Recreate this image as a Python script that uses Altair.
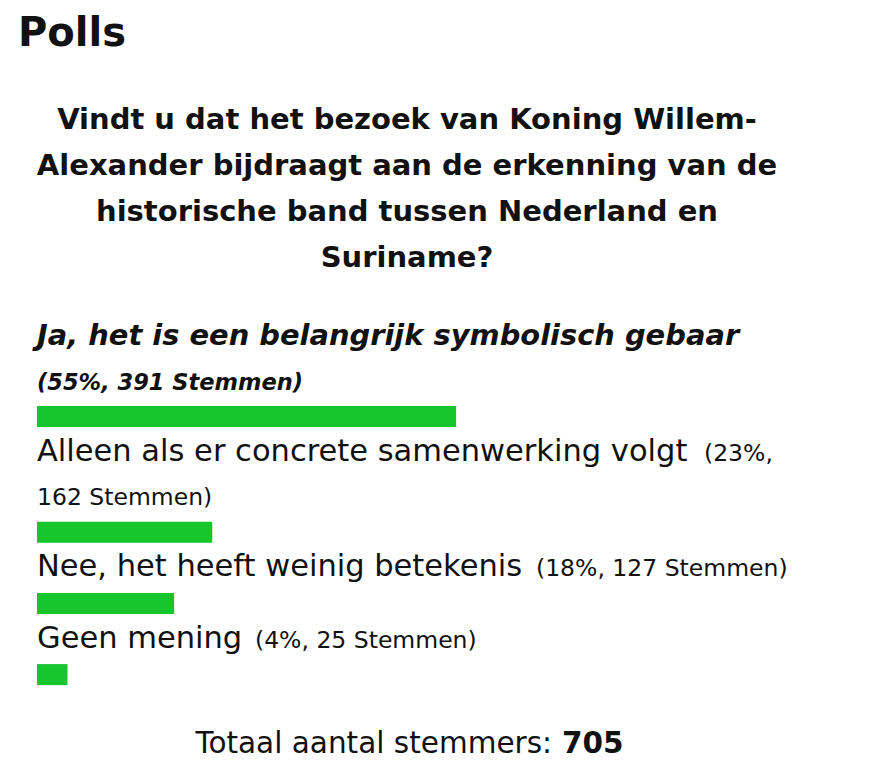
import altair as alt
import pandas as pd

# ---------------- data ----------------
page_title = "Polls"
question_lines = [
    "Vindt u dat het bezoek van Koning Willem-",
    "Alexander bijdraagt aan de erkenning van de",
    "historische band tussen Nederland en",
    "Suriname?",
]
option_labels = [
    "Ja, het is een belangrijk symbolisch gebaar",
    "Alleen als er concrete samenwerking volgt",
    "Nee, het heeft weinig betekenis",
    "Geen mening",
]
option_pct = [55, 23, 18, 4]
option_votes = [391, 162, 127, 25]
label_line_counts = [2, 2, 1, 1]  # text lines printed above each bar
total_label = "Totaal aantal stemmers:"
total_votes = 705

# ---------------- style ----------------
FONT = "DejaVu Sans"
GREEN = "#17c52d"
INK = "#111111"

df = pd.DataFrame({
    "option": option_labels,
    "pct": option_pct,
    "votes": option_votes,
    "lines": label_line_counts,
})
df["idx"] = range(len(df))
# vertical slot of each bar: one unit per text line plus a fixed gap per bar
df["slot"] = df["lines"].cumsum() + 0.6 * df["idx"]
df["votes_text"] = "(" + df["pct"].astype(str) + "%, " + df["votes"].astype(str) + " Stemmen)"

xscale = alt.Scale(domain=[0, 100], range=[29, 791])
yscale = alt.Scale(domain=[0, 10], range=[314.5, 769.5])

bars = alt.Chart(df).mark_bar(orient="horizontal", size=21, color=GREEN).encode(
    x=alt.X("pct:Q", scale=xscale, axis=None),
    y=alt.Y("slot:Q", scale=yscale, axis=None),
)

UPPER = -71.5
LOWER = -27


def frag(i, text, dy, x, size, weight="normal", style="normal"):
    d = df.iloc[[i]].assign(t=text)
    return alt.Chart(d).mark_text(
        align="left", baseline="alphabetic", font=FONT, fontSize=size,
        fontWeight=weight, fontStyle=style, dy=dy, color=INK,
    ).encode(
        x=alt.value(x),
        y=alt.Y("slot:Q", scale=yscale, axis=None),
        text="t:N",
    )


LABEL_SIZE = 30.5
SMALL_SIZE = 23.5
v1_a, v1_b = df.loc[1, "votes_text"].split(" ", 1)

layers = [
    bars,
    frag(0, df.loc[0, "option"], UPPER, 29, 28.9, "bold", "italic"),
    frag(0, df.loc[0, "votes_text"], LOWER, 29, 22.5, "bold", "italic"),
    frag(1, df.loc[1, "option"], UPPER, 29, LABEL_SIZE),
    frag(1, v1_a, UPPER, 696, SMALL_SIZE),
    frag(1, v1_b, LOWER, 29, SMALL_SIZE),
    frag(2, df.loc[2, "option"], LOWER, 29, LABEL_SIZE),
    frag(2, df.loc[2, "votes_text"], LOWER, 528, SMALL_SIZE),
    frag(3, df.loc[3, "option"], LOWER, 29, LABEL_SIZE),
    frag(3, df.loc[3, "votes_text"], LOWER, 247, SMALL_SIZE),
]

one = pd.DataFrame({"t": [page_title]})
title = alt.Chart(one).mark_text(
    align="left", baseline="alphabetic", font=FONT, fontSize=40, fontWeight="bold", color=INK
).encode(x=alt.value(10), y=alt.value(38), text=alt.value(page_title))

question = alt.Chart(one).mark_text(
    align="center", baseline="alphabetic", font=FONT, fontSize=29, fontWeight="bold",
    lineHeight=46, color=INK,
).encode(x=alt.value(399), y=alt.value(121), text=alt.value(question_lines))

total_a = alt.Chart(one).mark_text(
    align="right", baseline="alphabetic", font=FONT, fontSize=29.5, color=INK
).encode(x=alt.value(544), y=alt.value(745), text=alt.value(total_label))

total_b = alt.Chart(one).mark_text(
    align="left", baseline="alphabetic", font=FONT, fontSize=29.5, fontWeight="bold", color=INK
).encode(x=alt.value(554), y=alt.value(745), text=alt.value(str(total_votes)))

chart = alt.layer(title, question, *layers, total_a, total_b).properties(
    width=854, height=759, padding=0,
    autosize=alt.AutoSizeParams(type="none"),
).configure_view(stroke=None)

chart.save("out.html", embed_options={"renderer": "svg", "actions": False})
